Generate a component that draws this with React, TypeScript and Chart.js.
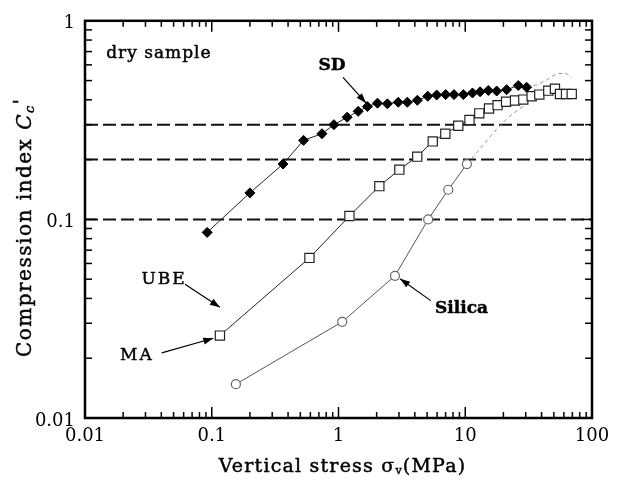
import React, { useEffect, useRef } from 'react';
import { Chart, registerables } from 'chart.js';

Chart.register(...registerables);

// ---- data ----
const sdStress = [0.092, 0.2, 0.365, 0.53, 0.74, 0.92, 1.17, 1.43, 1.69, 2.03, 2.43, 2.96, 3.49, 4.19, 5.06, 5.95, 7.01, 8.15, 9.66, 11.4, 13.1, 15.2, 17.7, 21.2, 26.2, 30.5];
const sdCc = [0.086, 0.136, 0.19, 0.25, 0.27, 0.3, 0.327, 0.35, 0.37, 0.385, 0.382, 0.389, 0.389, 0.398, 0.417, 0.423, 0.425, 0.425, 0.425, 0.433, 0.439, 0.446, 0.443, 0.45, 0.472, 0.463];
const sdFadedStress = [30.5, 34.4, 37.3, 43.9, 52.7, 63.2, 69.2];
const sdFadedCc = [0.463, 0.472, 0.476, 0.504, 0.543, 0.543, 0.513];

const maStress = [0.116, 0.59, 1.22, 2.1, 3.02, 4.18, 5.54, 6.96, 8.81, 10.8, 12.9, 15.4, 18.0, 21.0, 24.7, 28.7, 33.4, 38.4, 45.2, 51.0, 55.9, 62.4, 69.2];
const maCc = [0.026, 0.064, 0.104, 0.147, 0.178, 0.207, 0.247, 0.27, 0.296, 0.317, 0.342, 0.362, 0.376, 0.391, 0.397, 0.401, 0.417, 0.425, 0.445, 0.455, 0.428, 0.428, 0.428];

const silicaStress = [0.155, 1.07, 2.79, 5.1, 7.35, 10.3];
const silicaCc = [0.0148, 0.0305, 0.052, 0.1, 0.141, 0.19];
const silicaFadedStress = [10.3, 13.1, 17.7, 22.5, 28.7];
const silicaFadedCc = [0.19, 0.227, 0.285, 0.332, 0.372];

const refLines = [0.1, 0.2, 0.3];

const xTickValues = [0.01, 0.1, 1, 10, 100];
const xTickLabels = ['0.01', '0.1', '1', '10', '100'];
const yTickValues = [0.01, 0.1, 1];
const yTickLabels = ['0.01', '0.1', '1'];

const labels = [
  { text: 'dry sample', x: 0.0147, y: 0.68, align: 'left', bold: false, spacing: 1 },
  { text: 'SD', x: 0.888, y: 0.593, align: 'center', bold: true, spacing: 0 },
  { text: 'UBE', x: 0.042, y: 0.0499, align: 'center', bold: false, spacing: 2 },
  { text: 'MA', x: 0.0257, y: 0.0207, align: 'center', bold: false, spacing: 2 },
  { text: 'Silica', x: 5.77, y: 0.0357, align: 'left', bold: true, spacing: 0 },
];
const arrows = [
  { from: [1.085, 0.519], to: [1.648, 0.386] },
  { from: [0.0615, 0.0471], to: [0.116, 0.0361] },
  { from: [0.0403, 0.02126], to: [0.1029, 0.0252] },
  { from: [5.34, 0.039], to: [3.06, 0.0503] },
];

const FONT = "'DejaVu Serif', serif";

function logTicks(min: number, max: number): number[] {
  const out: number[] = [];
  const e0 = Math.round(Math.log10(min));
  const e1 = Math.round(Math.log10(max));
  for (let e = e0; e < e1; e++) {
    for (let m = 1; m < 10; m++) out.push(Number((m * Math.pow(10, e)).toPrecision(4)));
  }
  out.push(max);
  return out;
}
const isDecade = (v: number) => Math.abs(Math.log10(v) - Math.round(Math.log10(v))) < 1e-6;
const labelFor = (vals: number[], labs: string[]) => (value: any) => {
  const v = Number(value);
  const i = vals.findIndex((t) => Math.abs(t - v) / t < 1e-6);
  return i >= 0 ? labs[i] : '';
};

function heavyText(ctx: CanvasRenderingContext2D, t: string, x: number, y: number) {
  ctx.fillText(t, x, y);
  ctx.strokeText(t, x, y);
}

function drawParts(ctx: CanvasRenderingContext2D, parts: { t: string; font: string; dy: number }[], cx: number, cy: number, spacing: string) {
  (ctx as any).letterSpacing = spacing;
  let total = 0;
  const widths = parts.map((p) => {
    ctx.font = p.font;
    const w = ctx.measureText(p.t).width;
    total += w;
    return w;
  });
  let x = cx - total / 2;
  parts.forEach((p, i) => {
    ctx.font = p.font;
    heavyText(ctx, p.t, x, cy + p.dy);
    x += widths[i];
  });
}

const framePlugin = {
  id: 'frame',
  afterDraw(chart: any) {
    const { ctx, chartArea, scales } = chart;
    const { left, right, top, bottom } = chartArea;
    const xs = scales.x;
    const ys = scales.y;
    ctx.save();
    ctx.strokeStyle = '#000';
    ctx.fillStyle = '#000';
    ctx.lineWidth = 1.5;
    const seg = (x1: number, y1: number, x2: number, y2: number) => {
      ctx.beginPath();
      ctx.moveTo(x1, y1);
      ctx.lineTo(x2, y2);
      ctx.stroke();
    };
    logTicks(0.01, 100).forEach((v) => {
      const px = xs.getPixelForValue(v);
      const len = isDecade(v) ? 11 : 6;
      seg(px, bottom, px, bottom - len);
      seg(px, top, px, top + len);
    });
    logTicks(0.01, 1).forEach((v) => {
      const py = ys.getPixelForValue(v);
      const len = isDecade(v) ? 11 : 7;
      seg(left, py, left + len, py);
      seg(right, py, right - len, py);
    });
    ctx.lineWidth = 2.5;
    ctx.strokeRect(left, top, right - left, bottom - top);

    // annotations
    ctx.lineWidth = 0.45;
    ctx.textBaseline = 'middle';
    labels.forEach((l) => {
      ctx.font = `${l.bold ? 'bold ' : ''}17px ${FONT}`;
      (ctx as any).letterSpacing = `${l.spacing}px`;
      ctx.textAlign = l.align as CanvasTextAlign;
      heavyText(ctx, l.text, xs.getPixelForValue(l.x), ys.getPixelForValue(l.y));
    });
    (ctx as any).letterSpacing = '0px';
    ctx.textAlign = 'left';
    ctx.lineWidth = 1.2;
    arrows.forEach((a) => {
      const x1 = xs.getPixelForValue(a.from[0]);
      const y1 = ys.getPixelForValue(a.from[1]);
      const x2 = xs.getPixelForValue(a.to[0]);
      const y2 = ys.getPixelForValue(a.to[1]);
      seg(x1, y1, x2, y2);
      const ang = Math.atan2(y2 - y1, x2 - x1);
      const L = 10;
      const W = 3.5;
      ctx.beginPath();
      ctx.moveTo(x2, y2);
      ctx.lineTo(x2 - L * Math.cos(ang) + W * Math.sin(ang), y2 - L * Math.sin(ang) - W * Math.cos(ang));
      ctx.lineTo(x2 - L * Math.cos(ang) - W * Math.sin(ang), y2 - L * Math.sin(ang) + W * Math.cos(ang));
      ctx.closePath();
      ctx.fill();
    });

    // axis titles
    ctx.lineWidth = 0.45;
    ctx.textAlign = 'left';
    ctx.textBaseline = 'middle';
    drawParts(
      ctx,
      [
        { t: 'Vertical stress ', font: `19px ${FONT}`, dy: 0 },
        { t: 'σ', font: `19px ${FONT}`, dy: 0 },
        { t: 'v', font: `11px ${FONT}`, dy: 4 },
        { t: '(MPa)', font: `19px ${FONT}`, dy: 0 },
      ],
      (left + right) / 2 + 4,
      bottom + 49,
      '1.2px'
    );
    ctx.save();
    ctx.translate(26, (top + bottom) / 2 + 8);
    ctx.rotate(-Math.PI / 2);
    drawParts(
      ctx,
      [
        { t: 'Compression index ', font: `20px ${FONT}`, dy: 0 },
        { t: 'C', font: `italic 20px ${FONT}`, dy: 0 },
        { t: 'c', font: `italic 13px ${FONT}`, dy: 5 },
        { t: "'", font: `18px ${FONT}`, dy: -4 },
      ],
      0,
      0,
      '1.5px'
    );
    ctx.restore();
    ctx.restore();
  },
};

function pts(xs: number[], ys: number[]) {
  return xs.map((x, i) => ({ x, y: ys[i] }));
}

export default function App() {
  const ref = useRef<HTMLCanvasElement | null>(null);
  useEffect(() => {
    document.body.style.margin = '0';
    const canvas = ref.current!;
    const refSets = refLines.map((v) => ({
      type: 'line' as const,
      data: [{ x: 0.01, y: v }, { x: 100, y: v }],
      borderColor: '#111',
      borderWidth: 2,
      borderDash: [13, 5],
      pointRadius: 0,
      showLine: true,
    }));
    const chart = new Chart(canvas, {
      type: 'scatter',
      data: {
        datasets: [
          {
            label: 'SD',
            data: pts(sdStress, sdCc),
            showLine: true,
            borderColor: '#222',
            borderWidth: 1,
            pointStyle: 'rectRot',
            pointRadius: 5,
            pointBackgroundColor: '#000',
            pointBorderColor: '#000',
            pointBorderWidth: 1,
          },
          {
            label: 'MA',
            data: pts(maStress, maCc),
            showLine: true,
            borderColor: '#222',
            borderWidth: 1,
            pointStyle: 'rect',
            pointRadius: 6.5,
            pointBackgroundColor: '#fff',
            pointBorderColor: '#222',
            pointBorderWidth: 1.2,
          },
          {
            label: 'Silica',
            data: pts(silicaStress, silicaCc),
            showLine: true,
            borderColor: '#555',
            borderWidth: 1,
            pointStyle: 'circle',
            pointRadius: 4.5,
            pointBackgroundColor: '#fff',
            pointBorderColor: '#666',
            pointBorderWidth: 1.2,
          },
          {
            label: 'SD faded',
            data: pts(sdFadedStress, sdFadedCc),
            showLine: true,
            borderColor: '#999',
            borderWidth: 1,
            borderDash: [4, 3],
            pointRadius: 0,
          },
          {
            label: 'Silica faded',
            data: pts(silicaFadedStress, silicaFadedCc),
            showLine: true,
            borderColor: '#999',
            borderWidth: 1,
            borderDash: [4, 3],
            pointRadius: 0,
          },
          ...refSets,
        ] as any,
      },
      options: {
        animation: false,
        responsive: false,
        maintainAspectRatio: false,
        layout: { padding: { top: 13, right: 30, left: 0, bottom: 0 } },
        plugins: { legend: { display: false }, tooltip: { enabled: false } },
        scales: {
          x: {
            type: 'logarithmic',
            min: 0.01,
            max: 100,
            grid: { display: false, drawTicks: false },
            border: { display: false },
            afterBuildTicks: (s: any) => {
              s.ticks = logTicks(0.01, 100).map((value) => ({ value }));
            },
            afterFit: (s: any) => {
              s.height = 63;
            },
            ticks: {
              autoSkip: false,
              maxRotation: 0,
              padding: 8,
              color: '#000',
              font: { family: FONT, size: 18 },
              callback: labelFor(xTickValues, xTickLabels),
            },
          },
          y: {
            type: 'logarithmic',
            min: 0.01,
            max: 1,
            grid: { display: false, drawTicks: false },
            border: { display: false },
            afterBuildTicks: (s: any) => {
              s.ticks = logTicks(0.01, 1).map((value) => ({ value }));
            },
            afterFit: (s: any) => {
              s.width = 85;
            },
            ticks: {
              autoSkip: false,
              padding: 10,
              labelOffset: 3,
              color: '#000',
              font: { family: FONT, size: 18 },
              callback: labelFor(yTickValues, yTickLabels),
            },
          },
        },
      } as any,
      plugins: [framePlugin],
    });
    return () => chart.destroy();
  }, []);
  return (
    <div style={{ width: 622, height: 481, background: '#fff' }}>
      <canvas ref={ref} width={622} height={481} style={{ display: 'block', width: 622, height: 481 }} />
    </div>
  );
}
